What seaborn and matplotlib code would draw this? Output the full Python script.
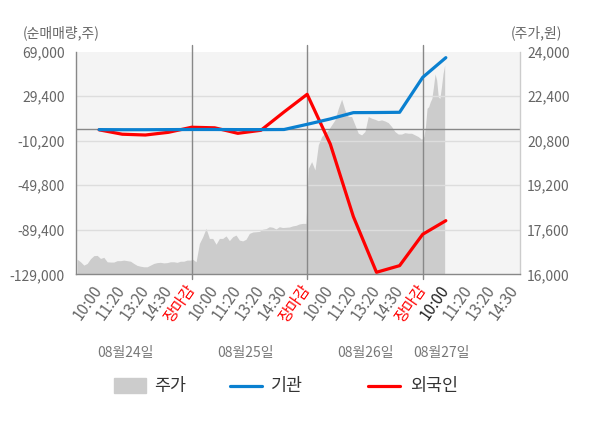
import numpy as np
import matplotlib
import matplotlib.pyplot as plt
import matplotlib.transforms as mtransforms
from matplotlib.lines import Line2D
from matplotlib.patches import Rectangle
import seaborn as sns

matplotlib.use('Agg')

# intraday price (won), one list per trading day
price_0824 = [16540, 16450, 16330, 16390, 16560, 16670, 16680, 16570, 16610, 16450,
              16440, 16440, 16490, 16490, 16510, 16490, 16470, 16390, 16320, 16290,
              16270, 16270, 16330, 16390, 16420, 16430, 16410, 16420, 16450, 16450,
              16430, 16470, 16470, 16510, 16510]
price_0825 = [16540, 16450, 17110, 17350, 17650, 17290, 17290, 17080, 17290, 17290,
              17380, 17210, 17350, 17410, 17230, 17200, 17260, 17470, 17520, 17530,
              17540, 17620, 17640, 17710, 17690, 17630, 17710, 17680, 17690, 17700,
              17740, 17760, 17810, 17830, 17830]
price_0826 = [19810, 20050, 19750, 20650, 20950, 21070, 21190, 21370, 21550, 21960,
              22290, 21900, 21670, 21670, 21370, 21070, 21010, 21130, 21670, 21610,
              21570, 21520, 21550, 21510, 21450, 21310, 21130, 21040, 21040, 21090,
              21070, 21070, 21010, 20950, 20850]
price_0827 = [20950, 21310, 21970, 22020, 22200, 22320, 22740, 23200, 22980, 22380,
              22320, 22740, 23220, 23520]

# net buying volume (shares) per time slot
time_labels = ['10:00', '11:20', '13:20', '14:30', '장마감'] * 4
inst_net = [-300, -400, -400, -300, -200, -200, -300, -300, -200,
            4400, 9200, 14800, 14900, 15100, 46200, 63700]
foreign_net = [-500, -4400, -5100, -2700, 1800, 1300, -3600, -900, 15400,
               31100, -13100, -77700, -127200, -121300, -93400, -81300]
dates = ['08월24일', '08월25일', '08월26일', '08월27일']

vol_ticks = [-129000, -89400, -49800, -10200, 29400, 69000]
price_ticks = [16000, 17600, 19200, 20800, 22400, 24000]

sns.set_style('white')
plt.rcParams['font.family'] = ['Noto Sans CJK KR', 'DejaVu Sans']

fig = plt.figure(figsize=(6, 4.28), dpi=100)
ax = fig.add_axes([0.1267, 0.3591, 0.74, 0.5201])
ax.set_facecolor('#f4f4f4')
ax2 = ax.twinx()
ax2.patch.set_visible(False)

# price area, each day spread over its slots (last day only up to 10:00)
day_span = [5, 5, 5, 1]
px, py = [], []
for i, p in enumerate([price_0824, price_0825, price_0826, price_0827]):
    px.extend(np.linspace(5 * i + 0.05, 5 * i + day_span[i] - 0.05, len(p)))
    py.extend(p)
ax.fill_between(px, py, 16000, color='#cccccc', linewidth=0)
ax.set_ylim(16000, 24000)
ax.set_yticks(price_ticks)
ax.set_yticklabels([f'{v:,}' for v in price_ticks])
ax.yaxis.set_ticks_position('right')
ax.tick_params(axis='y', length=0, pad=5, labelsize=10, labelcolor='#666666')
for s in ax.spines.values():
    s.set_visible(False)

# grid, zero line and day separators
for v in vol_ticks[1:-1]:
    ax2.axhline(v, color='#dddddd', lw=1, zorder=1)
ax2.axhline(0, color='#888888', lw=1, zorder=1)
for d in [5, 10, 15]:
    ax2.axvline(d, ymin=-0.02, ymax=1.03, color='#888888', lw=1, clip_on=False, zorder=1)

slots = np.arange(1, len(inst_net) + 1)
sns.lineplot(x=slots, y=foreign_net, ax=ax2, color='#ff0000', lw=2.3, zorder=3)
sns.lineplot(x=slots, y=inst_net, ax=ax2, color='#0a80d0', lw=2.3, zorder=4)

ax2.set_ylim(-129000, 69000)
ax2.set_xlim(0, 19.21)
ax2.set_yticks(vol_ticks)
ax2.set_yticklabels([f'{v:,}' for v in vol_ticks])
ax2.yaxis.set_ticks_position('left')
ax2.tick_params(axis='y', length=0, pad=8, labelsize=10, labelcolor='#666666')
ax2.set_ylabel('')

# x ticks live on the base axes (twin hides its own x axis)
ax.set_xticks(np.arange(1, 20))
ax.set_xticklabels(time_labels[:19])
ax.tick_params(axis='x', which='major', length=0, pad=9, labelsize=11)
for i, t in enumerate(ax.get_xticklabels()):
    t.set_rotation(55)
    t.set_rotation_mode('anchor')
    t.set_ha('right')
    t.set_va('center')
    if time_labels[i] == '장마감':
        t.set_color('#ff0000')
    elif i == 15:
        t.set_color('#222222')
    else:
        t.set_color('#666666')
ax.set_xticks([0, 5, 10, 15], minor=True)
ax.tick_params(axis='x', which='minor', length=4, color='#888888', width=1)

for name, s in ax2.spines.items():
    s.set_linewidth(1)
    s.set_color('#888888')
ax2.spines['top'].set_visible(False)
ax2.spines['right'].set_color('#cccccc')

trans = mtransforms.blended_transform_factory(ax2.transData, ax2.transAxes)
for x, d in zip([2.13, 7.32, 12.52, 15.79], dates):
    ax2.text(x, -0.354, d, transform=trans, ha='center', va='center',
             fontsize=10, color='#777777')

fig.text(0.038, 0.923, '(순매매량,주)', fontsize=10, color='#666666', va='center')
fig.text(0.937, 0.923, '(주가,원)', fontsize=10, color='#666666', va='center', ha='right')

# legend
fig.add_artist(Rectangle((114 / 600, 0.081), 32 / 600, 0.035,
                         transform=fig.transFigure, color='#cccccc'))
fig.add_artist(Line2D([230 / 600, 262 / 600], [0.0988, 0.0988],
                      transform=fig.transFigure, color='#0a80d0', lw=2.3))
fig.add_artist(Line2D([368 / 600, 400 / 600], [0.0988, 0.0988],
                      transform=fig.transFigure, color='#ff0000', lw=2.3))
for x, lab in zip([154, 271, 410], ['주가', '기관', '외국인']):
    fig.text(x / 600, 0.0988, lab, fontsize=12.5, color='#333333', va='center')

fig.savefig('out.png', dpi=100)
